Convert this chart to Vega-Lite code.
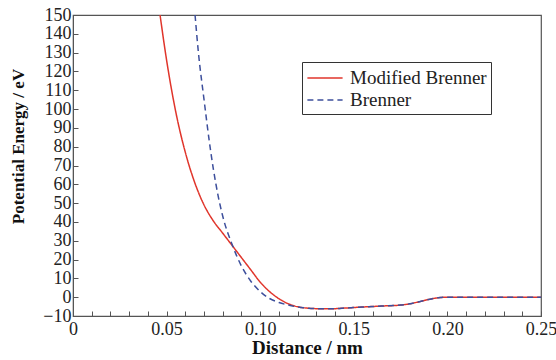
{
  "$schema": "https://vega.github.io/schema/vega-lite/v6.json",
  "autosize": "none",
  "width": 468,
  "height": 301,
  "padding": {"left": 73, "top": 15, "right": 15, "bottom": 44},
  "background": "white",
  "config": {
    "font": "Liberation Serif",
    "view": {"stroke": "#555555", "strokeWidth": 1.2},
    "axis": {"grid": false, "domainColor": "#555555", "tickColor": "#555555", "labelFont": "Liberation Serif", "titleFont": "Liberation Serif", "labelFontSize": 19, "titleFontSize": 19, "labelColor": "#222", "titleColor": "#111"}
  },
  "data": {"values": [
    {"x": 0.0465, "y": 150, "s": "Modified Brenner"},
    {"x": 0.050, "y": 126, "s": "Modified Brenner"},
    {"x": 0.055, "y": 98, "s": "Modified Brenner"},
    {"x": 0.060, "y": 77, "s": "Modified Brenner"},
    {"x": 0.065, "y": 61, "s": "Modified Brenner"},
    {"x": 0.070, "y": 49, "s": "Modified Brenner"},
    {"x": 0.075, "y": 40.5, "s": "Modified Brenner"},
    {"x": 0.080, "y": 34, "s": "Modified Brenner"},
    {"x": 0.085, "y": 27.5, "s": "Modified Brenner"},
    {"x": 0.090, "y": 21, "s": "Modified Brenner"},
    {"x": 0.095, "y": 14.5, "s": "Modified Brenner"},
    {"x": 0.100, "y": 8, "s": "Modified Brenner"},
    {"x": 0.105, "y": 3, "s": "Modified Brenner"},
    {"x": 0.110, "y": -0.8, "s": "Modified Brenner"},
    {"x": 0.115, "y": -3.5, "s": "Modified Brenner"},
    {"x": 0.120, "y": -5.1, "s": "Modified Brenner"},
    {"x": 0.125, "y": -5.8, "s": "Modified Brenner"},
    {"x": 0.130, "y": -6.1, "s": "Modified Brenner"},
    {"x": 0.137, "y": -6.2, "s": "Modified Brenner"},
    {"x": 0.145, "y": -5.8, "s": "Modified Brenner"},
    {"x": 0.155, "y": -5.2, "s": "Modified Brenner"},
    {"x": 0.165, "y": -4.7, "s": "Modified Brenner"},
    {"x": 0.175, "y": -4.2, "s": "Modified Brenner"},
    {"x": 0.180, "y": -3.5, "s": "Modified Brenner"},
    {"x": 0.185, "y": -2.4, "s": "Modified Brenner"},
    {"x": 0.190, "y": -1.2, "s": "Modified Brenner"},
    {"x": 0.195, "y": -0.3, "s": "Modified Brenner"},
    {"x": 0.200, "y": 0, "s": "Modified Brenner"},
    {"x": 0.250, "y": 0, "s": "Modified Brenner"},
    {"x": 0.0652, "y": 150, "s": "Brenner"},
    {"x": 0.067, "y": 130, "s": "Brenner"},
    {"x": 0.070, "y": 105, "s": "Brenner"},
    {"x": 0.0732, "y": 80, "s": "Brenner"},
    {"x": 0.075, "y": 68, "s": "Brenner"},
    {"x": 0.0775, "y": 54, "s": "Brenner"},
    {"x": 0.080, "y": 43, "s": "Brenner"},
    {"x": 0.085, "y": 28, "s": "Brenner"},
    {"x": 0.090, "y": 16.5, "s": "Brenner"},
    {"x": 0.095, "y": 8.5, "s": "Brenner"},
    {"x": 0.100, "y": 3, "s": "Brenner"},
    {"x": 0.105, "y": -0.7, "s": "Brenner"},
    {"x": 0.110, "y": -2.8, "s": "Brenner"},
    {"x": 0.115, "y": -4.2, "s": "Brenner"},
    {"x": 0.120, "y": -5.2, "s": "Brenner"},
    {"x": 0.125, "y": -5.8, "s": "Brenner"},
    {"x": 0.130, "y": -6.1, "s": "Brenner"},
    {"x": 0.137, "y": -6.2, "s": "Brenner"},
    {"x": 0.145, "y": -5.8, "s": "Brenner"},
    {"x": 0.155, "y": -5.2, "s": "Brenner"},
    {"x": 0.165, "y": -4.7, "s": "Brenner"},
    {"x": 0.175, "y": -4.2, "s": "Brenner"},
    {"x": 0.180, "y": -3.5, "s": "Brenner"},
    {"x": 0.185, "y": -2.4, "s": "Brenner"},
    {"x": 0.190, "y": -1.2, "s": "Brenner"},
    {"x": 0.195, "y": -0.3, "s": "Brenner"},
    {"x": 0.200, "y": 0, "s": "Brenner"},
    {"x": 0.250, "y": 0, "s": "Brenner"}
  ]},
  "mark": {"type": "line", "clip": true, "strokeWidth": 1.5, "interpolate": "monotone"},
  "encoding": {
    "x": {"field": "x", "type": "quantitative",
      "scale": {"domain": [0, 0.25], "nice": false, "zero": false},
      "axis": {"title": "Distance / nm", "titleFontWeight": "bold", "titlePadding": 0,
        "labelFont": "Liberation Serif", "labelFontSize": 18,
        "values": [0,0.01,0.02,0.03,0.04,0.05,0.06,0.07,0.08,0.09,0.1,0.11,0.12,0.13,0.14,0.15,0.16,0.17,0.18,0.19,0.2,0.21,0.22,0.23,0.24,0.25],
        "labelExpr": "datum.value == 0 ? '0' : (abs(datum.value*20 - round(datum.value*20)) < 0.001 ? format(datum.value, '.2f') : '')",
        "tickSize": -5, "labelPadding": 9, "labelFlush": false, "labelOverlap": false}},
    "y": {"field": "y", "type": "quantitative",
      "scale": {"domain": [-10, 150], "nice": false, "zero": false},
      "axis": {"title": "Potential Energy / eV", "titleFontWeight": "bold", "titleFontSize": 17,
        "titleX": -55, "titleY": 131, "titleBaseline": "middle", "titleAlign": "center", "titleAngle": -90,
        "labelFont": "Liberation Serif", "labelFontSize": 18,
        "values": [-10,0,10,20,30,40,50,60,70,80,90,100,110,120,130,140,150],
        "tickSize": -5, "labelPadding": 7, "labelFlush": false, "labelOverlap": false}},
    "color": {"field": "s", "type": "nominal", "sort": ["Modified Brenner", "Brenner"],
      "scale": {"domain": ["Modified Brenner", "Brenner"], "range": ["#e0352b", "#3d4f9c"]},
      "legend": {"title": null, "orient": "none", "legendX": 229, "legendY": 47,
        "strokeColor": "#333", "padding": 4, "labelFontSize": 19, "labelFont": "Liberation Serif",
        "symbolType": "M-1.6,0H1.6", "symbolSize": 484, "symbolOffset": 7, "symbolStrokeWidth": 1.5, "symbolFillColor": "transparent", "rowPadding": 0, "labelOffset": 13, "labelColor": "#222"}},
    "strokeDash": {"field": "s", "type": "nominal", "sort": ["Modified Brenner", "Brenner"],
      "scale": {"domain": ["Modified Brenner", "Brenner"], "range": [[1, 0], [6, 4]]},
      "legend": {"title": null, "orient": "none", "legendX": 229, "legendY": 47}}
  }
}
